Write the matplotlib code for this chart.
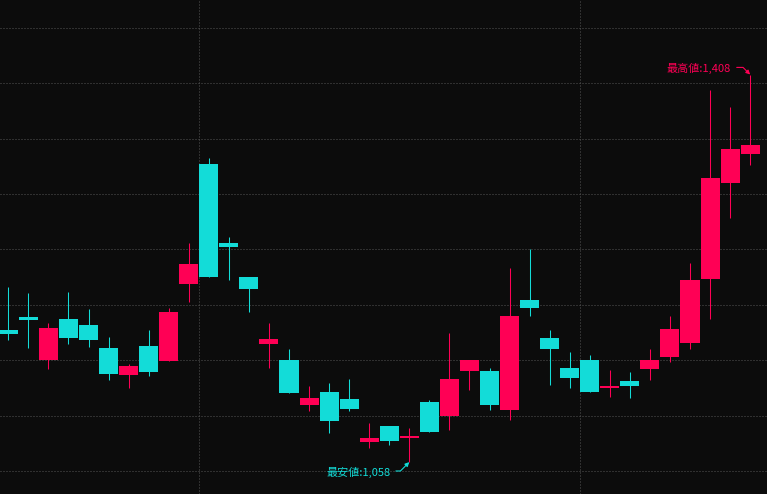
import matplotlib
matplotlib.use("Agg")
import matplotlib.pyplot as plt
import numpy as np

plt.rcParams['font.family'] = ['Noto Sans CJK JP', 'DejaVu Sans']

# daily candles, left to right
opens = [1177, 1189, 1150, 1187, 1182, 1161, 1137, 1163, 1149, 1219,
         1327, 1256, 1225, 1165, 1150, 1110, 1121, 1115, 1076, 1091,
         1080, 1112, 1100, 1140, 1140, 1105, 1204, 1170, 1143, 1150,
         1125, 1131, 1142, 1153, 1166, 1223, 1310, 1336]
highs = [1216, 1211, 1184, 1212, 1196, 1171, 1147, 1177, 1197, 1256,
         1333, 1261, 1225, 1184, 1160, 1127, 1129, 1133, 1093, 1091,
         1089, 1114, 1175, 1150, 1143, 1233, 1250, 1177, 1157, 1155,
         1141, 1139, 1160, 1190, 1238, 1394, 1379, 1408]
lows = [1168, 1161, 1142, 1165, 1162, 1132, 1125, 1136, 1149, 1203,
        1225, 1222, 1194, 1143, 1120, 1104, 1084, 1104, 1071, 1073,
        1058, 1085, 1087, 1123, 1105, 1096, 1190, 1128, 1125, 1121,
        1117, 1116, 1132, 1148, 1160, 1187, 1278, 1326]
closes = [1174, 1186, 1179, 1170, 1168, 1138, 1145, 1139, 1194, 1237,
          1225, 1252, 1214, 1169, 1120, 1116, 1095, 1106, 1080, 1077,
          1082, 1085, 1133, 1150, 1110, 1190, 1197, 1160, 1134, 1121,
          1127, 1127, 1150, 1178, 1222, 1315, 1341, 1344]
price_grid = [1050, 1100, 1150, 1200, 1250, 1300, 1350, 1400, 1450]
month_breaks = [9.5, 28.5]

UP = '#ff0055'
DOWN = '#13dcd8'
BG = '#0c0c0c'

o = np.array(opens)
c = np.array(closes)
x = np.arange(len(o))
colors = np.where(c > o, UP, DOWN)

fig = plt.figure(figsize=(7.67, 4.94), dpi=100, facecolor=BG)
ax = fig.add_axes([0, 0, 1, 1])
ax.set_facecolor(BG)

for y in price_grid:
    ax.axhline(y, color='#555555', lw=0.72, ls=(0, (1, 2)), zorder=0)
for xb in month_breaks:
    ax.axvline(xb, color='#555555', lw=0.72, ls=(0, (1, 2)), zorder=0)

ax.vlines(x, lows, highs, colors=colors, lw=0.75, zorder=2)
bottoms = np.minimum(o, c)
heights = np.maximum(np.abs(c - o), 1.2)
ax.bar(x, heights, bottom=bottoms, width=0.95, color=colors, zorder=3)

# high / low markers
ihi = int(np.argmax(highs))
ilo = int(np.argmin(lows))
ax.annotate(f'最高値:{highs[ihi]:,}', xy=(ihi, highs[ihi]), xytext=(-19, 6),
            textcoords='offset pixels', ha='right', va='center', color=UP,
            fontsize=8,
            arrowprops=dict(arrowstyle='-|>,head_length=0.3,head_width=0.15',
                            color=UP, lw=0.8, relpos=(1, 0.6),
                            connectionstyle='angle,angleA=0,angleB=135,rad=0',
                            shrinkA=2, shrinkB=0))
ax.annotate(f'最安値:{lows[ilo]:,}', xy=(ilo, lows[ilo]), xytext=(-19, -10),
            textcoords='offset pixels', ha='right', va='center', color=DOWN,
            fontsize=8,
            arrowprops=dict(arrowstyle='-|>,head_length=0.3,head_width=0.15',
                            color=DOWN, lw=0.8, relpos=(1, 0.6),
                            connectionstyle='angle,angleA=0,angleB=-135,rad=0',
                            shrinkA=2, shrinkB=0))

ax.set_xlim(-0.414, 37.84)
ax.set_ylim(1029.2, 1475.3)
ax.axis('off')

fig.savefig('out.png', dpi=100, facecolor=BG)
